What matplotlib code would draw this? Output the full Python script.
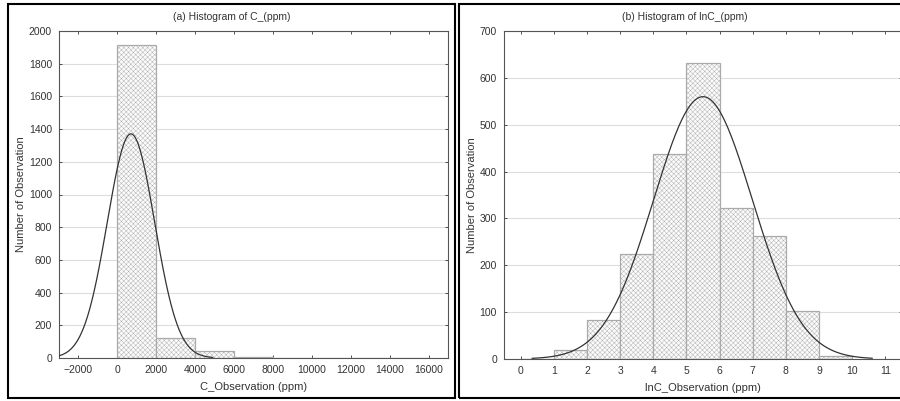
import matplotlib.pyplot as plt
from matplotlib.patches import Rectangle
import numpy as np

plt.rcParams['font.family'] = ['Liberation Sans', 'DejaVu Sans']
plt.rcParams['hatch.color'] = '#e2e2e2'
plt.rcParams['hatch.linewidth'] = 0.3

# (a) C_(ppm) histogram
c_edges = [0, 2000, 4000, 6000, 8000, 10000, 12000, 14000, 16000]
c_counts = [1915, 125, 40, 8, 2, 1, 0, 0]
c_mean, c_sd, c_n = 700, 1217, 2091
c_xticks = [-2000, 0, 2000, 4000, 6000, 8000, 10000, 12000, 14000, 16000]
c_yticks = [0, 200, 400, 600, 800, 1000, 1200, 1400, 1600, 1800, 2000]

# (b) lnC_(ppm) histogram
ln_edges = [0, 1, 2, 3, 4, 5, 6, 7, 8, 9, 10]
ln_counts = [0, 20, 83, 225, 437, 631, 323, 263, 103, 6]
ln_mean, ln_sd, ln_n = 5.5, 1.49, 2091
ln_xticks = [0, 1, 2, 3, 4, 5, 6, 7, 8, 9, 10, 11]
ln_yticks = [0, 100, 200, 300, 400, 500, 600, 700]

W, H = 900, 401
fig = plt.figure(figsize=(9, 4.01), dpi=100)


def px_axes(l, r, t, b):
    return fig.add_axes([l / W, (H - b) / H, (r - l) / W, (b - t) / H])


def style(ax):
    for s in ax.spines.values():
        s.set_color('#555555')
        s.set_linewidth(0.8)
    ax.tick_params(labelsize=7.5, colors='#333333', length=2.5, width=0.6,
                   direction='in', top=True, right=True, pad=5)
    ax.grid(axis='y', color='#dddddd', linewidth=0.8)
    ax.set_axisbelow(True)


def draw_hist(ax, edges, counts, mean, sd, n, x0, x1):
    left = edges[:-1]
    widths = np.diff(edges)
    ax.bar(left, counts, width=widths, align='edge', facecolor='#fbfbfb',
           edgecolor='#aaaaaa', linewidth=0.9, hatch='xxxxxxx', zorder=2)
    binw = widths[0]
    xs = np.linspace(x0, x1, 400)
    ys = n * binw / (sd * np.sqrt(2 * np.pi)) * np.exp(-0.5 * ((xs - mean) / sd) ** 2)
    ax.plot(xs, ys, color='#333333', linewidth=0.9, zorder=3)


# panel (a)
ax1 = px_axes(59, 448, 31, 358)
style(ax1)
draw_hist(ax1, c_edges, c_counts, c_mean, c_sd, c_n, -3000, 4900)
ax1.set_xlim(-3000, 17000)
ax1.set_ylim(0, 2000)
ax1.set_xticks(c_xticks)
ax1.set_yticks(c_yticks)
ax1.set_xlabel('C_Observation (ppm)', fontsize=8, color='#333333', labelpad=5)
ax1.set_ylabel('Number of Observation', fontsize=8, color='#333333', labelpad=2)
fig.text(232 / W, 1 - 17 / H, '(a) Histogram of C_(ppm)', fontsize=7.5,
         color='#333333', ha='center', va='center')

# panel (b)
ax2 = px_axes(504, 902, 31, 359)
style(ax2)
draw_hist(ax2, ln_edges, ln_counts, ln_mean, ln_sd, ln_n, 0.35, 10.6)
ax2.set_xlim(-0.5, 11.5)
ax2.set_ylim(0, 700)
ax2.set_xticks(ln_xticks)
ax2.set_yticks(ln_yticks)
ax2.set_xlabel('lnC_Observation (ppm)', fontsize=8, color='#333333', labelpad=5)
ax2.set_ylabel('Number of Observation', fontsize=8, color='#333333', labelpad=2)
fig.text(685 / W, 1 - 17 / H, '(b) Histogram of lnC_(ppm)', fontsize=7.5,
         color='#333333', ha='center', va='center')

# black frames round each panel
fig.patches.append(Rectangle((8 / W, 3 / H), 447 / W, 394 / H, transform=fig.transFigure,
                             fill=False, edgecolor='black', linewidth=1.5))
fig.patches.append(Rectangle((459 / W, 3 / H), 450 / W, 394 / H, transform=fig.transFigure,
                             fill=False, edgecolor='black', linewidth=1.5))

fig.savefig('out.png', dpi=100)
